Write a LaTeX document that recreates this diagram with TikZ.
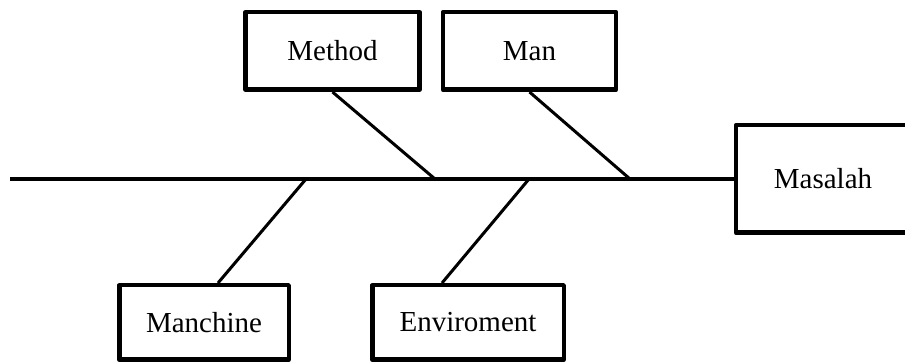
\documentclass[tikz,border=0pt]{standalone}
\usepackage{fontspec}
\setmainfont{Liberation Serif}
\usetikzlibrary{positioning}

\begin{document}
\begin{tikzpicture}[
    x=0.5pt, y=-0.5pt,
    causa/.style={
      draw, line width=2.25pt, line join=round,
      minimum width=87pt, minimum height=38.75pt,
      inner sep=0pt,
      font=\fontsize{14.5}{17}\selectfont
    },
    espina/.style={line width=1.75pt},
    rama/.style={line width=1.5pt}
  ]

  % Marco
  \useasboundingbox (0,0) rectangle (905,362);
  \clip (0,0) rectangle (905,362);

  % Cajas superiores
  \node[causa] (method) at (332.5,51) {Method};
  \node[causa, minimum width=86.5pt] (man) at (529.5,51) {Man};

  % Cabeza
  \node[causa, minimum height=53.75pt] (masalah) at (823,179)
    {Masalah};

  % Cajas inferiores
  \node[causa, minimum width=84.75pt, minimum height=37.25pt]
    (manchine) at (204,322.5) {Manchine};
  \node[causa, minimum width=95.75pt, minimum height=37.25pt]
    (enviroment) at (468,322.5) {Enviroment};

  % Espina central
  \coordinate (cola) at (10,179);
  \draw[espina]
    (cola) -- (masalah.west);

  % Puntos sobre la espina
  \coordinate (p1) at (435,179);
  \coordinate (p2) at (630,179);
  \coordinate (p3) at (306,179);
  \coordinate (p4) at (529,179);

  % Ramas
  \draw[rama] (method.south) -- (p1);
  \draw[rama] (man.south) -- (p2);
  \draw[rama] (p3) -- ([xshift=7pt]manchine.north);
  \draw[rama] (p4) -- ([xshift=-13pt]enviroment.north);

\end{tikzpicture}
\end{document}
